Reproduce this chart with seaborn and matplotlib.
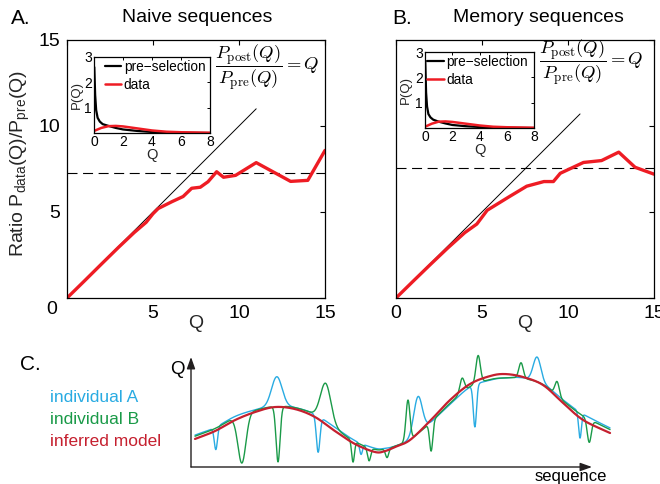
import numpy as np
import pandas as pd
import matplotlib
matplotlib.use("Agg")
import matplotlib.pyplot as plt
import seaborn as sns

# ---------------- data ----------------
# Panel A (naive sequences)
q_naive = [0, 1, 2, 3, 3.9, 4.6, 5.0, 5.3, 6.1, 6.75, 7.25, 7.75, 8.2, 8.7, 9.1, 9.8, 11.0, 13.0, 14.0, 15.0]
ratio_naive = [0, 0.98, 1.97, 2.95, 3.8, 4.4, 4.9, 5.2, 5.6, 5.9, 6.38, 6.44, 6.76, 7.34, 7.02, 7.13, 7.87, 6.78, 6.84, 8.58]
plateau_naive = 7.27
diag_end_naive = 11.0

# Panel B (memory sequences)
q_memory = [0, 1, 2, 3, 4, 4.7, 5.3, 6.6, 7.6, 8.6, 9.15, 9.55, 10.9, 11.95, 12.95, 13.9, 15.0]
ratio_memory = [0, 0.98, 1.95, 2.9, 3.8, 4.3, 5.1, 5.9, 6.5, 6.77, 6.77, 7.25, 7.88, 7.99, 8.48, 7.6, 7.2]
plateau_memory = 7.56
diag_end_memory = 10.7

# Insets: P(Q)
q_pre = [0.02, 0.08, 0.15, 0.25, 0.4, 0.6, 1.0, 1.5, 2.0, 3.0, 4.0, 5.0, 6.0, 8.0]
p_pre_naive = [2.6, 1.5, 0.9, 0.6, 0.45, 0.35, 0.28, 0.2, 0.14, 0.08, 0.04, 0.02, 0.01, 0.0]
p_pre_memory = [2.6, 1.4, 0.85, 0.55, 0.42, 0.33, 0.25, 0.18, 0.12, 0.07, 0.04, 0.02, 0.01, 0.0]
q_dat = [0, 0.5, 1.0, 1.5, 2.0, 3.0, 4.0, 5.0, 6.0, 7.0, 8.0]
p_data_naive = [0.08, 0.2, 0.27, 0.28, 0.26, 0.18, 0.1, 0.05, 0.03, 0.02, 0.01]
p_data_memory = [0.05, 0.17, 0.25, 0.26, 0.24, 0.17, 0.1, 0.05, 0.03, 0.02, 0.01]

# Panel C (schematic)
seq_pos = [1.0, 6.0, 11.0, 16.0, 20.9, 25.9, 30.9, 35.9, 40.9, 45.9, 48.4, 50.9, 54.6,
           59.6, 64.6, 69.6, 74.6, 78.3, 82.8, 87.8, 92.8, 97.8, 104.5]
q_model = [25.5, 32.7, 42.7, 50.0, 54.5, 52.7, 45.5, 32.7, 20.9, 13.6, 14.5, 18.2, 24.5,
           41.8, 60.9, 75.5, 82.7, 84.5, 81.8, 74.5, 58.2, 42.7, 30.9]
q_base_A = [29, 36, 46, 52, 55.5, 54, 48, 36, 24, 17, 17, 19, 25,
            40, 57, 72.7, 79, 81, 81, 75.5, 61, 48, 35.5]
q_base_B = [28, 35, 45, 51.5, 55, 54, 47.5, 35, 23, 16, 16.5, 19, 25,
            40, 58, 73, 79.5, 81, 80.5, 75, 60, 46.5, 34]
spikeA_pos = [6.2, 21.4, 31.7, 42.4, 56.6, 70.8, 86.3, 97.0]
spikeA_amp = [-20.5, 26.5, -33, -10, 33.5, -38.5, 22, -23.5]
spikeA_wid = [0.4, 1.3, 0.45, 0.35, 1.05, 0.4, 0.95, 0.35]
spikeB_pos = [12.7, 21.7, 33.6, 40.4, 44.4, 48.9, 54.1, 59.9, 67.6, 71.6, 82.3, 91.3, 99.3]
spikeB_amp = [-44, -50.5, 35, -19.5, -12, -8.3, 37, -26.5, 13, 25, 14, 13, -21]
spikeB_wid = [1.0, 0.5, 1.3, 0.35, 0.4, 0.4, 0.5, 0.4, 0.55, 0.55, 0.55, 0.55, 0.5]

# ---------------- style ----------------
sns.set_theme(style="white")
plt.rcParams.update({
    "font.family": ["Liberation Sans", "DejaVu Sans"],
    "mathtext.fontset": "custom",
    "mathtext.rm": "Liberation Sans",
    "mathtext.it": "Liberation Sans:italic",
    "mathtext.bf": "Liberation Sans:bold",
    "axes.edgecolor": "black",
    "axes.linewidth": 0.9,
    "xtick.color": "black",
    "ytick.color": "black",
    "text.color": "black",
})

W, H = 660, 484
fig = plt.figure(figsize=(W / 100, H / 100), dpi=100)


def box(l, t, r, b):
    return [l / W, 1 - b / H, (r - l) / W, (b - t) / H]


def fpos(x, y):
    return x / W, 1 - y / H


RED = "#ee1c24"


def main_panel(rect, q, ratio, plateau, dend):
    ax = fig.add_axes(rect)
    sns.lineplot(x=[0, dend], y=[0, dend], ax=ax, color="black", lw=0.7)
    ax.axhline(plateau, color="black", lw=0.8, ls=(0, (9, 5)))
    sns.lineplot(x=q, y=ratio, ax=ax, color=RED, lw=2.4, sort=False)
    ax.set_xlim(0, 15)
    ax.set_ylim(0, 15)
    ax.set_xticks([0, 5, 10, 15])
    ax.set_yticks([0, 5, 10, 15])
    ax.tick_params(direction="in", top=True, right=True, length=3.5, width=0.8,
                   labelsize=14, pad=5)
    ax.set_xlabel("Q", fontsize=14)
    ax.xaxis.set_label_coords(0.5, -0.065)
    return ax


axA = main_panel(box(67, 40, 325, 298), q_naive, ratio_naive, plateau_naive, diag_end_naive)
axA.set_xticklabels(["", "5", "10", "15"])
axA.set_yticklabels(["", "5", "10", "15"])
axA.set_ylabel(r"Ratio P$_{\mathrm{data}}$(Q)/P$_{\mathrm{pre}}$(Q)", fontsize=14)
axA.yaxis.set_label_coords(-0.135, 0.52)
fig.text(*fpos(52, 309), "0", fontsize=14, ha="center", va="center")

axB = main_panel(box(396, 40, 654, 298), q_memory, ratio_memory, plateau_memory, diag_end_memory)
axB.set_yticklabels([])
axB.set_ylabel("")

# titles
fig.text(*fpos(21, 18), "A.", fontsize=15, ha="center", va="center")
fig.text(*fpos(197, 18), "Naive sequences", fontsize=14, ha="center", va="center")
fig.text(*fpos(402, 18), "B.", fontsize=15, ha="center", va="center")
fig.text(*fpos(538, 18), "Memory sequences", fontsize=14, ha="center", va="center")


def inset(rect, p_pre, p_dat, ylab_x, leg_x):
    ax = fig.add_axes(rect)
    sns.lineplot(x=q_pre, y=p_pre, ax=ax, color="black", lw=1.6, label="pre\u2212selection")
    sns.lineplot(x=q_dat, y=p_dat, ax=ax, color=RED, lw=1.8, label="data")
    ax.set_xlim(0, 8)
    ax.set_ylim(0, 3)
    ax.set_xticks([0, 2, 4, 6, 8])
    ax.set_yticks([1, 2, 3])
    ax.tick_params(direction="in", top=True, right=True, length=2, width=0.7,
                   labelsize=10, pad=1.5)
    ax.set_xlabel("Q", fontsize=10.5)
    ax.xaxis.set_label_coords(0.5, -0.2)
    ax.set_ylabel("P(Q)", fontsize=9.5)
    ax.yaxis.set_label_coords(ylab_x, 0.5)
    ax.legend(loc="upper left", bbox_to_anchor=(leg_x, 0.98), frameon=False,
              fontsize=9.8, handlelength=1.2, handletextpad=0.2, borderpad=0.1,
              labelspacing=0.3, borderaxespad=0)
    for sp in ax.spines.values():
        sp.set_linewidth(0.9)
    return ax


inset(box(94, 57, 210, 133), p_pre_naive, p_data_naive, -0.10, 0.08)
inset(box(425, 52, 534, 128), p_pre_memory, p_data_memory, -0.12, 0.01)

frac = r"$\dfrac{P_{\mathrm{post}}(Q)}{P_{\mathrm{pre}}(Q)} = Q$"
fig.text(*fpos(215, 68), frac, fontsize=13.3, ha="left", va="center", math_fontfamily="cm")
fig.text(*fpos(539, 63), frac, fontsize=13.3, ha="left", va="center", math_fontfamily="cm")

# ---------------- panel C ----------------
axC = fig.add_axes(box(191, 350, 625, 470))
axC.set_xlim(0, (625 - 191) / 4.01)
axC.set_ylim((467 - 470) / 1.1, (467 - 350) / 1.1)
axC.axis("off")


def spline_xy(xs, ys, n=24):
    """Catmull-Rom rendering of a line through the given points."""
    P = np.column_stack([xs, ys]).astype(float)
    P = np.vstack([2 * P[0] - P[1], P, 2 * P[-1] - P[-2]])
    t = np.linspace(0, 1, n, endpoint=False)[:, None]
    h00 = 2 * t**3 - 3 * t**2 + 1
    h10 = t**3 - 2 * t**2 + t
    h01 = -2 * t**3 + 3 * t**2
    h11 = t**3 - t**2
    out = []
    for i in range(1, len(P) - 2):
        p0, p1, p2, p3 = P[i - 1], P[i], P[i + 1], P[i + 2]
        m1 = (p2 - p0) / 2
        m2 = (p3 - p1) / 2
        out.append(h00 * p1 + h10 * m1 + h01 * p2 + h11 * m2)
    out.append(P[-2][None, :])
    out = np.vstack(out)
    return out[:, 0], out[:, 1]


s_fine = np.linspace(seq_pos[0], seq_pos[-1], 2500)


def individual(base, pos, amp, wid):
    sx, sy = spline_xy(seq_pos, base)
    y = np.interp(s_fine, sx, sy)
    for c, a, w in zip(pos, amp, wid):
        y = y + a * np.exp(-0.5 * ((s_fine - c) / w) ** 2)
    return y


BLUE = "#29abe2"
GREEN = "#1a9a48"
CRIM = "#c5202f"
curveA = individual(q_base_A, spikeA_pos, spikeA_amp, spikeA_wid)
curveB = individual(q_base_B, spikeB_pos, spikeB_amp, spikeB_wid)
mx, my = spline_xy(seq_pos, q_model)
sns.lineplot(x=s_fine, y=curveA, ax=axC, color=BLUE, lw=1.0, sort=False)
sns.lineplot(x=s_fine, y=curveB, ax=axC, color=GREEN, lw=1.0, sort=False)
sns.lineplot(x=mx, y=my, ax=axC, color=CRIM, lw=1.6, sort=False)

arrow = dict(arrowstyle="-|>,head_length=0.7,head_width=0.25", lw=1.0,
             color="#231f20", shrinkA=0, shrinkB=0, mutation_scale=10)
axC.annotate("", xy=(100, 0), xytext=(0, 0), arrowprops=arrow, annotation_clip=False)
axC.annotate("", xy=(0, 100), xytext=(0, 0), arrowprops=arrow, annotation_clip=False)

fig.text(*fpos(30, 365), "C.", fontsize=15, ha="center", va="center")
fig.text(*fpos(177, 370), "Q", fontsize=13.5, ha="center", va="center")
fig.text(*fpos(571, 476), "sequence", fontsize=12, ha="center", va="center")
fig.text(*fpos(50, 398), "individual A", fontsize=12.5, ha="left", va="center", color=BLUE)
fig.text(*fpos(50, 420), "individual B", fontsize=12.5, ha="left", va="center", color=GREEN)
fig.text(*fpos(50, 442), "inferred model", fontsize=12.5, ha="left", va="center", color=CRIM)

fig.savefig("out.png", dpi=100)
